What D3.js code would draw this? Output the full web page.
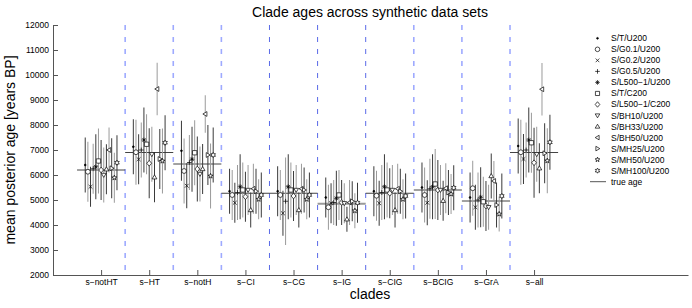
<!DOCTYPE html>
<html>
<head>
<meta charset="utf-8">
<script src="https://cdn.jsdelivr.net/npm/d3@7"></script>
<style>
  body { margin: 0; background: #fff; }
  text { font-family: "Liberation Sans", Arial, sans-serif; }
</style>
</head>
<body>
<svg id="chart" width="692" height="308"></svg>
<script>
// clades on the x axis
const clades = ["s\u2212notHT", "s\u2212HT", "s\u2212notH", "s\u2212CI", "s\u2212CG", "s\u2212IG", "s\u2212CIG", "s\u2212BCIG", "s\u2212GrA", "s\u2212all"]
const trueAge = [6200, 6900, 6440, 5270, 5270, 4850, 5270, 5400, 4960, 6900]

// synthetic data sets (legend order)
const dataSets = ["S/T/U200", "S/G0.1/U200", "S/G0.2/U200", "S/G0.5/U200", "S/L500\u22121/U200", "S/T/C200",
    "S/L500\u22121/C200", "S/BH10/U200", "S/BH33/U200", "S/BH50/U200", "S/MH25/U200", "S/MH50/U200", "S/MH100/U200"]
const markers = ["dot", "circle", "x", "plus", "asterisk", "square", "diamond", "triDown", "triUp", "triLeft", "triRight", "pentagram", "hexagram"]

// mean posterior age, one row per clade, one value per data set
const meanAge = [
    [6400, 6130, 5530, 6250, 6330, 6560, 6200, 6000, 6230, 7000, 6270, 5890, 6490],
    [7130, 6910, 6630, 7000, 7400, 7230, 6470, 6830, 5910, 9440, 6640, 6560, 7290],
    [6970, 6160, 5570, 6500, 6630, 6890, 6240, 6040, 6240, 8440, 6800, 5960, 6800],
    [5350, 5200, 4890, 5300, 5530, 5400, 5130, 5400, 4600, 5450, 5350, 5030, 5200],
    [5350, 5200, 4470, 4950, 5530, 5400, 5160, 5400, 4600, 5450, 5400, 5030, 5200],
    [5100, 4710, 4870, 4900, 5070, 5200, 4900, 4870, 4230, 4900, 4950, 4570, 4890],
    [5350, 5170, 4870, 5300, 5530, 5400, 5270, 5400, 4600, 5450, 5350, 5030, 5160],
    [5500, 5200, 4890, 5450, 5530, 5640, 5400, 5400, 4970, 5470, 5300, 5240, 5490],
    [5100, 5470, 4710, 5000, 5110, 4930, 4760, 4710, 5960, 5760, 4800, 4440, 5160],
    [7160, 6910, 6640, 7000, 7400, 7290, 6490, 6830, 6270, 9430, 6870, 6570, 7310]
]
// half length of the error bars
const spread = [
    [1100, 1200, 800, 1000, 1300, 1300, 1200, 1100, 1000, 900, 1200, 1000, 1100],
    [1100, 1300, 1000, 1100, 1300, 1200, 1400, 1100, 1000, 1050, 1200, 1300, 1100],
    [1200, 1300, 900, 1100, 1300, 1300, 1300, 1100, 1000, 750, 1200, 1300, 1100],
    [900, 1000, 800, 1100, 1300, 1100, 1000, 1000, 700, 1000, 900, 800, 900],
    [1000, 1000, 900, 1750, 1300, 1100, 1000, 1000, 700, 1000, 900, 800, 900],
    [800, 900, 800, 900, 1100, 1000, 900, 800, 500, 900, 800, 700, 800],
    [1000, 1000, 900, 1100, 1300, 1100, 1000, 1000, 700, 1000, 900, 800, 900],
    [1000, 1100, 900, 1200, 1300, 1400, 1200, 1000, 800, 1000, 900, 800, 900],
    [1000, 1100, 900, 1100, 1200, 1000, 1000, 900, 900, 800, 900, 700, 900],
    [1100, 1300, 1000, 1100, 1300, 1200, 1400, 1100, 1000, 1050, 1200, 1300, 1100]
]
const yTicks = [2000, 3000, 4000, 5000, 6000, 7000, 8000, 9000, 10000, 11000, 12000]

const svg = d3.select("#chart")
const x = d3.scaleLinear().domain([0, 13.2]).range([53, 688])
const y = d3.scaleLinear().domain([2000, 12000]).range([275, 25])
const offset = i => (i - 6) * 0.055

// separators between clades
const seps = d3.range(1, clades.length).map(i => i + 0.5)
svg.selectAll(".sep").data(seps).join("line")
    .attr("x1", d => x(d)).attr("x2", d => x(d))
    .attr("y1", y(12000)).attr("y2", y(2000))
    .attr("stroke", (d, i) => (i >= 3 && i <= 5) ? "#5a6ae8" : "#9eaaff")
    .attr("stroke-width", (d, i) => (i >= 3 && i <= 5) ? 1 : 1.6)
    .attr("stroke-dasharray", "5,7")

// true age lines
svg.selectAll(".truth").data(trueAge).join("line")
    .attr("x1", (d, i) => x(i + 0.5)).attr("x2", (d, i) => x(i + 1.5))
    .attr("y1", d => y(d)).attr("y2", d => y(d))
    .attr("stroke", (d, i) => i === 5 ? "#999" : "#444")
    .attr("stroke-width", (d, i) => i === 5 ? 2 : 1)

// marker paths
function markerPath(type, s) {
    const p = d3.path()
    const r = s
    switch (type) {
        case "dot": p.arc(0, 0, 0.9, 0, 2 * Math.PI); break
        case "circle": p.arc(0, 0, r, 0, 2 * Math.PI); break
        case "x": p.moveTo(-r * .8, -r * .8); p.lineTo(r * .8, r * .8); p.moveTo(r * .8, -r * .8); p.lineTo(-r * .8, r * .8); break
        case "plus": p.moveTo(-r, 0); p.lineTo(r, 0); p.moveTo(0, -r); p.lineTo(0, r); break
        case "asterisk":
            for (let k = 0; k < 4; k++) {
                const a = k * Math.PI / 4
                p.moveTo(-r * Math.cos(a), -r * Math.sin(a)); p.lineTo(r * Math.cos(a), r * Math.sin(a))
            }
            break
        case "square": p.rect(-r * .9, -r * .9, r * 1.8, r * 1.8); break
        case "diamond": p.moveTo(0, -r * 1.2); p.lineTo(r, 0); p.lineTo(0, r * 1.2); p.lineTo(-r, 0); p.closePath(); break
        case "triDown": p.moveTo(-r, -r * .7); p.lineTo(r, -r * .7); p.lineTo(0, r); p.closePath(); break
        case "triUp": p.moveTo(-r, r * .7); p.lineTo(r, r * .7); p.lineTo(0, -r); p.closePath(); break
        case "triLeft": p.moveTo(r * .7, -r); p.lineTo(r * .7, r); p.lineTo(-r, 0); p.closePath(); break
        case "triRight": p.moveTo(-r * .7, -r); p.lineTo(-r * .7, r); p.lineTo(r, 0); p.closePath(); break
        case "pentagram":
        case "hexagram": {
            const n = type === "pentagram" ? 5 : 6
            const ri = type === "pentagram" ? r * 0.45 : r * 0.6
            for (let k = 0; k < 2 * n; k++) {
                const a = -Math.PI / 2 + k * Math.PI / n
                const rr = k % 2 === 0 ? r * 1.1 : ri
                if (k === 0) p.moveTo(rr * Math.cos(a), rr * Math.sin(a))
                else p.lineTo(rr * Math.cos(a), rr * Math.sin(a))
            }
            p.closePath()
            break
        }
    }
    return p.toString()
}

// flatten points
const points = []
meanAge.forEach((row, c) => {
    row.forEach((v, s) => {
        points.push({ clade: c, set: s, value: v, sd: spread[c][s] })
    })
})

// error bars
svg.selectAll(".bar").data(points).join("line")
    .attr("x1", d => x(d.clade + 1 + offset(d.set)))
    .attr("x2", d => x(d.clade + 1 + offset(d.set)))
    .attr("y1", d => y(d.value - d.sd))
    .attr("y2", d => y(d.value + d.sd))
    .attr("stroke", d => d.set % 2 === 0 ? "#3a3a3a" : "#9a9a9a")
    .attr("stroke-width", 1)

// markers
svg.selectAll(".mark").data(points).join("path")
    .attr("transform", d => "translate(" + x(d.clade + 1 + offset(d.set)) + "," + y(d.value) + ")")
    .attr("d", d => markerPath(markers[d.set], 2.4))
    .attr("fill", d => markers[d.set] === "dot" ? "#000" : "#fff")
    .attr("fill-opacity", d => ["x", "plus", "asterisk"].includes(markers[d.set]) ? 0 : 1)
    .attr("stroke", "#000")
    .attr("stroke-width", 0.7)

// axes
const yAxis = d3.axisLeft(y).tickValues(yTicks).tickFormat(d3.format("d"))
    .tickSizeInner(-5).tickSizeOuter(0).tickPadding(4)
const gy = svg.append("g").attr("transform", "translate(53,0)").call(yAxis)
gy.selectAll("text").attr("font-size", 8.5).attr("fill", "#000")
gy.selectAll("line,path").attr("stroke", "#555")

const xAxis = d3.axisBottom(x).tickValues(d3.range(1, clades.length + 1))
    .tickFormat((d, i) => clades[i]).tickSizeInner(-5).tickSizeOuter(0).tickPadding(4)
const gx = svg.append("g").attr("transform", "translate(0,275)").call(xAxis)
gx.selectAll("text").attr("font-size", 8.5).attr("fill", "#000")
gx.selectAll("line,path").attr("stroke", "#555")

// titles
svg.append("text").attr("x", 370).attr("y", 17).attr("text-anchor", "middle")
    .attr("font-size", 14).text("Clade ages across synthetic data sets")
svg.append("text").attr("x", 370).attr("y", 299).attr("text-anchor", "middle")
    .attr("font-size", 14).text("clades")
svg.append("text").attr("transform", "translate(15,150)rotate(-90)").attr("text-anchor", "middle")
    .attr("font-size", 14).text("mean posterior age [years BP]")

// legend
const legend = svg.append("g")
dataSets.forEach((name, i) => {
    const ly = 38.3 + i * 11.03
    legend.append("path")
        .attr("transform", "translate(597.5," + ly + ")")
        .attr("d", markerPath(markers[i], 2.3))
        .attr("fill", markers[i] === "dot" ? "#000" : "#fff")
        .attr("stroke", "#000").attr("stroke-width", 0.7)
    legend.append("text").attr("x", 611).attr("y", ly + 3).attr("font-size", 8.5).text(name)
})
const lyT = 38.3 + dataSets.length * 11.03
legend.append("line").attr("x1", 590).attr("x2", 606).attr("y1", lyT).attr("y2", lyT)
    .attr("stroke", "#555").attr("stroke-width", 1)
legend.append("text").attr("x", 611).attr("y", lyT + 3).attr("font-size", 8.5).text("true age")
</script>
</body>
</html>
